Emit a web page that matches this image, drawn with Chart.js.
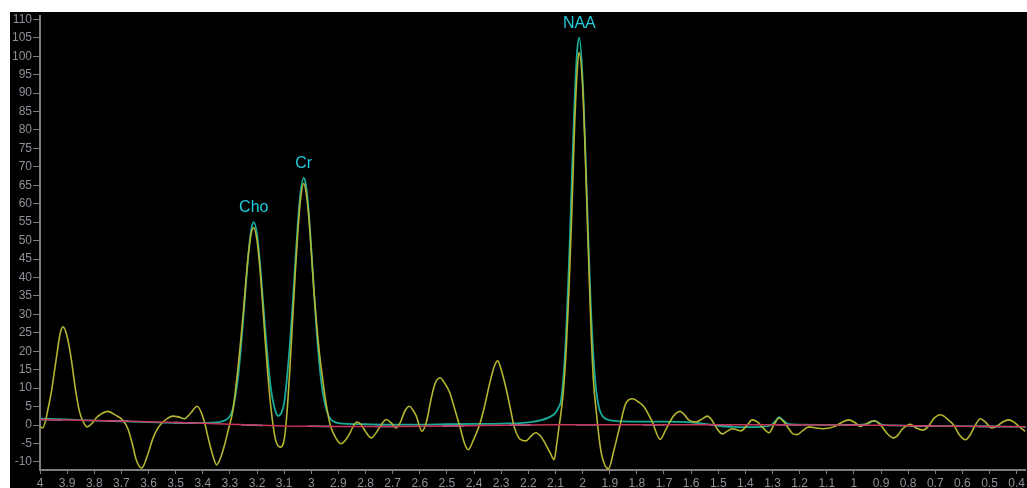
<!DOCTYPE html>
<html>
<head>
<meta charset="utf-8">
<script src="https://cdn.jsdelivr.net/npm/chart.js@4.4.1/dist/chart.umd.min.js"></script>
<style>
  html, body { margin: 0; padding: 0; background: #ffffff; }
  #wrap { position: relative; width: 1027px; height: 488px; }
</style>
</head>
<body>
<div id="wrap"><canvas id="spectrum-chart" width="1027" height="488"></canvas></div>
<script>
// measured spectrum (ppm, amplitude)
const rawPpm = [
  4.00, 3.99, 3.98, 3.97, 3.958, 3.94, 3.925, 3.915, 3.90, 3.885, 3.87, 3.854, 3.84, 3.826, 3.81, 3.793,
  3.77, 3.75, 3.72, 3.695, 3.676, 3.66, 3.645, 3.625, 3.605, 3.584, 3.565, 3.547, 3.53, 3.51, 3.49, 3.467,
  3.445, 3.42, 3.405, 3.394, 3.375, 3.36, 3.349, 3.335, 3.32, 3.305, 3.29, 3.28, 3.27, 3.26, 3.25, 3.24,
  3.23, 3.22, 3.212, 3.20, 3.19, 3.18, 3.17, 3.16, 3.15, 3.14, 3.13, 3.114, 3.10, 3.09, 3.08, 3.07,
  3.06, 3.05, 3.04, 3.028, 3.02, 3.01, 3.00, 2.99, 2.98, 2.97, 2.96, 2.95, 2.94, 2.93, 2.91, 2.89,
  2.875, 2.859, 2.845, 2.832, 2.815, 2.80, 2.779, 2.76, 2.74, 2.724, 2.705, 2.687, 2.67, 2.655, 2.638, 2.625,
  2.614, 2.592, 2.575, 2.56, 2.545, 2.525, 2.51, 2.491, 2.47, 2.454, 2.435, 2.421, 2.405, 2.38, 2.36, 2.344,
  2.325, 2.313, 2.30, 2.282, 2.265, 2.252, 2.235, 2.221, 2.209, 2.19, 2.172, 2.155, 2.141, 2.12, 2.105, 2.095,
  2.086, 2.08, 2.07, 2.06, 2.05, 2.04, 2.03, 2.02, 2.013, 2.00, 1.99, 1.98, 1.97, 1.96, 1.95, 1.94,
  1.93, 1.905, 1.885, 1.865, 1.841, 1.816, 1.795, 1.773, 1.743, 1.714, 1.695, 1.675, 1.658, 1.641, 1.625, 1.608,
  1.583, 1.56, 1.54, 1.525, 1.509, 1.485, 1.465, 1.448, 1.432, 1.417, 1.395, 1.375, 1.355, 1.338, 1.313, 1.295,
  1.276, 1.26, 1.24, 1.225, 1.209, 1.19, 1.166, 1.14, 1.117, 1.09, 1.068, 1.045, 1.019, 0.995, 0.976, 0.955,
  0.935, 0.921, 0.905, 0.896, 0.875, 0.853, 0.835, 0.823, 0.805, 0.792, 0.77, 0.746, 0.725, 0.705, 0.68, 0.655,
  0.632, 0.61, 0.589, 0.57, 0.552, 0.534, 0.515, 0.492, 0.47, 0.45, 0.43, 0.41, 0.39, 0.369
];
const rawValues = [
  -0.5, -0.8, 1, 4.5, 9, 18, 25, 26.6, 24, 18, 10, 3.5, 0.8, -0.5, 0.3, 1.9,
  3.2, 3.7, 2.6, 1.3, -1, -5, -9.5, -11.7, -8.5, -3.7, -0.8, 0.8, 1.8, 2.4, 2.2, 1.7,
  3.2, 5.1, 3.3, 0.8, -5, -9, -10.8, -9, -5.5, -1, 3.5, 9, 15.5, 23, 31, 40,
  47.5, 52.5, 53.5, 50, 43, 33.5, 23, 13.5, 5.5, -0.5, -4.5, -6, -4, 3, 14, 27,
  40, 52, 61, 65.5, 63.5, 57, 47, 36, 27, 19.5, 13.5, 8, 3.5, 0, -3.5, -5.1,
  -4.2, -2.4, -0.3, 0.8, 0, -1.8, -3.5, -2, 0.3, 1.5, 0.5, -0.8, 1, 3.8, 5.1, 4,
  2.6, -1.7, 1, 6.5, 11, 12.8, 11.5, 9, 4, 0, -5, -6.7, -4.5, 0, 5.5, 10.8,
  16, 17.4, 15, 9.9, 4, -0.5, -3.5, -4.2, -4.3, -3, -2.1, -3, -4.6, -7.5, -9.4, -5,
  0, 3, 10, 21, 37, 57, 80, 96, 101, 92, 73, 50, 28, 12, 4, -3,
  -8, -11.9, -7, -1, 5.8, 7.1, 6.3, 4.9, 0.8, -3.9, -1.5, 1.3, 3, 3.7, 2.8, 1.3,
  0.8, 1.6, 2.4, 1.5, -0.5, -2.4, -1.6, -1, -1.3, -1.6, -0.2, 1.4, 0.8, -0.5, -2.1, 0,
  1.9, 1, -1, -2.4, -2.6, -1.6, -0.5, -0.8, -1, -0.8, -0.3, 0.7, 1.4, 0.6, -0.4, 0.3,
  1, 1.1, 0.3, -0.5, -2.5, -3.5, -2.5, -1.2, -0.2, 0.2, -0.8, -1.4, -0.3, 1.8, 2.8, 1.6,
  0, -2.8, -4, -2.5, 0, 1.7, 0.8, -0.8, -0.2, 0.9, 1.4, 0.8, -0.5, -1.7
];

// fitted spectrum
const fitPpm = [
  4.00, 3.90, 3.80, 3.70, 3.60, 3.50, 3.40, 3.34, 3.32, 3.30, 3.29, 3.28, 3.27, 3.26, 3.25, 3.24,
  3.23, 3.22, 3.212, 3.20, 3.19, 3.18, 3.17, 3.16, 3.15, 3.14, 3.13, 3.123, 3.11, 3.10, 3.09, 3.08,
  3.07, 3.06, 3.05, 3.04, 3.028, 3.02, 3.01, 3.00, 2.99, 2.98, 2.97, 2.96, 2.95, 2.94, 2.93, 2.92,
  2.90, 2.80, 2.70, 2.60, 2.50, 2.40, 2.30, 2.22, 2.16, 2.12, 2.10, 2.09, 2.08, 2.07, 2.06, 2.05,
  2.04, 2.03, 2.02, 2.012, 2.00, 1.99, 1.98, 1.97, 1.96, 1.95, 1.94, 1.93, 1.92, 1.90, 1.86, 1.70,
  1.60, 1.55, 1.50, 1.45, 1.40, 1.35, 1.31, 1.29, 1.276, 1.26, 1.24, 1.20, 1.00, 0.95, 0.925, 0.90,
  0.85, 0.60, 0.366
];
const fitValues = [
  1.7, 1.5, 1.2, 1.0, 0.8, 0.6, 0.6, 0.8, 1.2, 2.4, 4.2, 7.8, 13, 20.5, 29.5, 39,
  47.8, 53.5, 55, 51.7, 44.7, 35.5, 26, 17.5, 10.5, 6, 3.3, 2.5, 3.3, 6, 12.5, 20.8,
  31.2, 43, 54.2, 62.8, 67, 65.2, 58.3, 47.8, 36.2, 25.2, 16.5, 10, 5.8, 3.2, 1.7, 1.0,
  0.5, 0.2, 0.1, 0.1, 0.2, 0.3, 0.4, 0.6, 1.2, 2.2, 3.3, 4.6, 6.5, 13.5, 26, 44,
  66, 87, 101.5, 105, 94, 75, 52.7, 32.8, 18.5, 9.5, 4.8, 2.8, 1.9, 1.3, 1.0, 0.9,
  0.7, 0.3, -0.2, -0.5, -0.6, -0.5, -0.2, 1.0, 2.1, 1.2, 0.2, 0.1, 0.0, 0.3, 1.2, 0.2,
  -0.1, -0.3, -0.5
];

// baseline
const basePpm = [4.00, 3.80, 3.60, 3.40, 3.30, 3.10, 2.90, 2.70, 2.50, 2.30, 2.10, 1.90, 1.60, 1.30, 1.10, 0.90, 0.70, 0.50, 0.366];
const baseValues = [1.5, 1.2, 0.9, 0.5, 0.2, -0.3, -0.4, -0.4, -0.3, -0.1, 0.1, 0.1, 0.1, 0.1, 0.0, -0.1, -0.3, -0.4, -0.5];

// peak labels
const peakNames = ["Cho", "Cr", "NAA"];
const peakPpm = [3.212, 3.028, 2.012];
const peakHeights = [55, 67, 105];

const xTicks = [4, 3.9, 3.8, 3.7, 3.6, 3.5, 3.4, 3.3, 3.2, 3.1, 3, 2.9, 2.8, 2.7, 2.6, 2.5, 2.4, 2.3, 2.2, 2.1, 2,
  1.9, 1.8, 1.7, 1.6, 1.5, 1.4, 1.3, 1.2, 1.1, 1, 0.9, 0.8, 0.7, 0.6, 0.5, 0.4];
const yTicks = [-10, -5, 0, 5, 10, 15, 20, 25, 30, 35, 40, 45, 50, 55, 60, 65, 70, 75, 80, 85, 90, 95, 100, 105, 110];

function pares(xs, ys) {
  return xs.map((x, i) => ({ x: x, y: ys[i] }));
}

const fundoPreto = {
  id: "fundoPreto",
  beforeDraw(chart) {
    const ctx = chart.ctx;
    ctx.save();
    ctx.fillStyle = "#000000";
    ctx.fillRect(10, 12, chart.width - 10, chart.height - 12);
    ctx.restore();
  },
};

const rotulosPicos = {
  id: "rotulosPicos",
  afterDatasetsDraw(chart) {
    const ctx = chart.ctx;
    const x = chart.scales.x;
    const y = chart.scales.y;
    ctx.save();
    ctx.font = '16px "Liberation Sans", Arial, sans-serif';
    ctx.fillStyle = "#22cde0";
    ctx.textAlign = "center";
    ctx.textBaseline = "alphabetic";
    peakNames.forEach((nome, i) => {
      ctx.fillText(nome, x.getPixelForValue(peakPpm[i]), y.getPixelForValue(peakHeights[i]) - 10);
    });
    ctx.restore();
  },
};

const corEixo = "#7d7d7d";
const corTexto = "#8f8f99";
const fonteEixo = { family: '"Liberation Sans", Arial, sans-serif', size: 12 };

new Chart(document.getElementById("spectrum-chart"), {
  type: "line",
  data: {
    datasets: [
      {
        data: pares(basePpm, baseValues),
        borderColor: "#c8345a",
        borderWidth: 1.5,
      },
      {
        data: pares(basePpm, baseValues),
        borderColor: "#8cc4e6",
        borderWidth: 1.5,
        borderDash: [22, 45],
      },
      {
        data: pares(rawPpm, rawValues),
        borderColor: "#b4b530",
        borderWidth: 1.6,
        cubicInterpolationMode: "monotone",
      },
      {
        data: pares(fitPpm, fitValues),
        borderColor: "#18ab98",
        borderWidth: 1.8,
        cubicInterpolationMode: "monotone",
      },
    ],
  },
  options: {
    responsive: false,
    animation: false,
    elements: { point: { radius: 0 } },
    layout: { padding: { left: 10, top: 16, right: 0, bottom: 0 } },
    plugins: { legend: { display: false }, tooltip: { enabled: false } },
    scales: {
      x: {
        type: "linear",
        reverse: true,
        min: 0.366,
        max: 4,
        border: { color: corEixo, width: 2 },
        grid: { drawOnChartArea: false, color: corEixo, tickLength: 4 },
        ticks: {
          color: corTexto,
          font: fonteEixo,
          padding: 2,
          maxRotation: 0,
          autoSkip: false,
          callback: (v) => String(+v.toFixed(1)),
        },
        afterBuildTicks: (scale) => { scale.ticks = xTicks.map((v) => ({ value: v })); },
        afterFit: (scale) => { scale.height = 18; },
      },
      y: {
        min: -12.2,
        max: 110.9,
        border: { color: corEixo, width: 2 },
        grid: { drawOnChartArea: false, color: corEixo, tickLength: 7 },
        ticks: { color: corTexto, font: fonteEixo, padding: 1 },
        afterBuildTicks: (scale) => { scale.ticks = yTicks.map((v) => ({ value: v })); },
        afterFit: (scale) => { scale.width = 30; },
      },
    },
  },
  plugins: [fundoPreto, rotulosPicos],
});
</script>
</body>
</html>
